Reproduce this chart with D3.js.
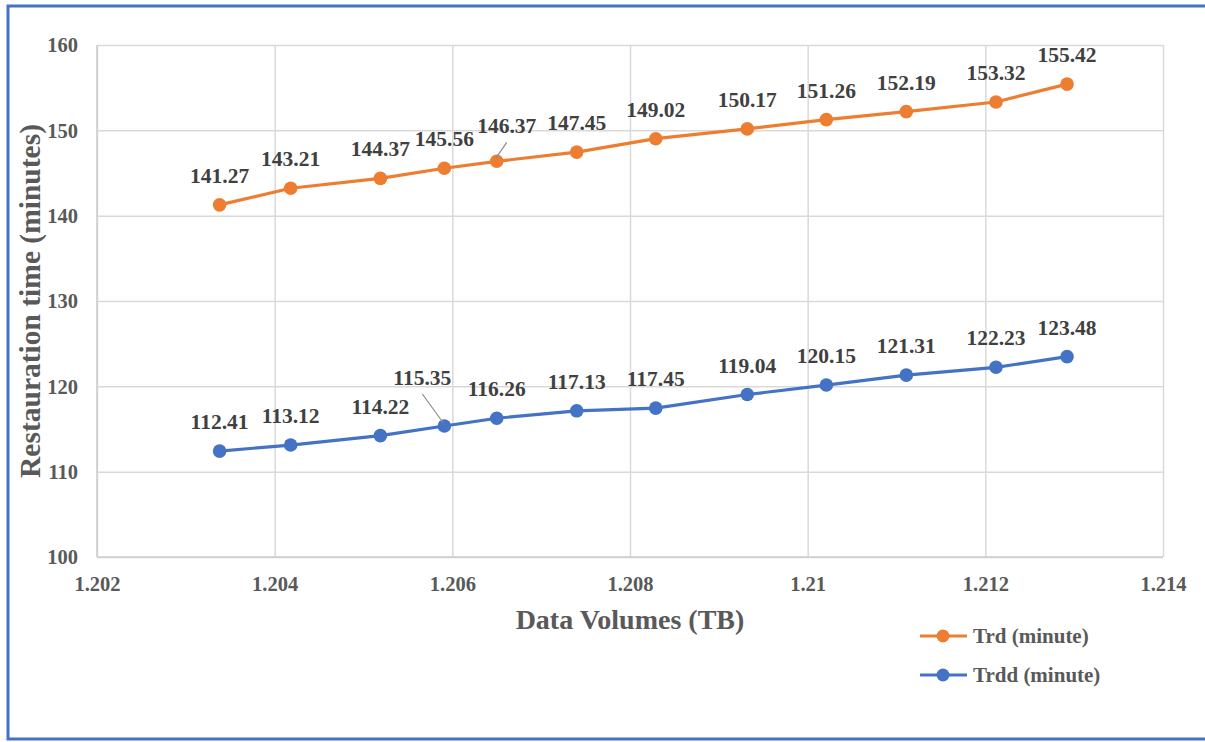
<!DOCTYPE html>
<html>
<head>
<meta charset="utf-8">
<script src="https://cdn.jsdelivr.net/npm/d3@7"></script>
<style>
  html, body { margin: 0; padding: 0; background: #fff; }
  svg { display: block; }
</style>
</head>
<body>
<svg id="chart" width="1205" height="742"></svg>
<script>
// Data volumes (TB) for each measurement
const dataVolumes = [1.20338, 1.20418, 1.20519, 1.20591, 1.20650, 1.20740,
                     1.20829, 1.20932, 1.21021, 1.21111, 1.21212, 1.21292];
// Restoration time series (minutes)
const trd  = [141.27, 143.21, 144.37, 145.56, 146.37, 147.45,
              149.02, 150.17, 151.26, 152.19, 153.32, 155.42];
const trdd = [112.41, 113.12, 114.22, 115.35, 116.26, 117.13,
              117.45, 119.04, 120.15, 121.31, 122.23, 123.48];
const seriesNames = ["Trd (minute)", "Trdd (minute)"];
const xTickValues = [1.202, 1.204, 1.206, 1.208, 1.210, 1.212, 1.214];
const xTickLabels = ["1.202", "1.204", "1.206", "1.208", "1.21", "1.212", "1.214"];
const yTickValues = [100, 110, 120, 130, 140, 150, 160];

// Hand-placed data labels: [series index, point index, dx, dy, leader line]
const labelNudges = [
  [0, 4, 10, -6, true],
  [1, 3, -22, -19, true]
];

const FONT = "'Liberation Serif', 'Times New Roman', serif";
const colors = ["#ED7D31", "#4472C4"];
const svg = d3.select("#chart");
const W = 1205;

// outer frame (left, top and bottom edges)
svg.append("path")
  .attr("d", `M${W},6 H8 V739 H${W}`)
  .attr("fill", "none")
  .attr("stroke", "#4472C4")
  .attr("stroke-width", 3);

const plot = { left: 97, right: 1163, top: 45, bottom: 557 };
const x = d3.scaleLinear().domain([1.202, 1.214]).range([plot.left, plot.right]);
const y = d3.scaleLinear().domain([100, 160]).range([plot.bottom, plot.top]);

// gridlines
const grid = svg.append("g");
grid.append("g")
  .attr("transform", `translate(0,${plot.bottom})`)
  .call(d3.axisBottom(x).tickValues(xTickValues).tickSize(-(plot.bottom - plot.top)).tickFormat(""))
  .call(g => g.select(".domain").remove())
  .call(g => g.selectAll("line").attr("stroke", "#d9d9d9").attr("stroke-width", 1.5));
grid.append("g")
  .attr("transform", `translate(${plot.left},0)`)
  .call(d3.axisLeft(y).tickValues(yTickValues).tickSize(-(plot.right - plot.left)).tickFormat(""))
  .call(g => g.select(".domain").remove())
  .call(g => g.selectAll("line").attr("stroke", "#d9d9d9").attr("stroke-width", 1.5));
svg.append("line").attr("x1", plot.left).attr("x2", plot.left).attr("y1", plot.top).attr("y2", plot.bottom)
  .attr("stroke", "#cccccc").attr("stroke-width", 1.5);
svg.append("line").attr("x1", plot.left).attr("x2", plot.right).attr("y1", plot.bottom).attr("y2", plot.bottom)
  .attr("stroke", "#cccccc").attr("stroke-width", 1.5);

// tick labels
const xAxis = svg.append("g")
  .attr("transform", `translate(0,${plot.bottom})`)
  .call(d3.axisBottom(x).tickValues(xTickValues).tickSize(0).tickPadding(0)
        .tickFormat((d, i) => xTickLabels[i]));
xAxis.attr("font-family", FONT).attr("font-size", 20.5).attr("font-weight", "bold");
xAxis.select(".domain").remove();
xAxis.selectAll("text").attr("y", 34).attr("dy", 0).attr("fill", "#595959");

const yAxis = svg.append("g")
  .attr("transform", `translate(${plot.left},0)`)
  .call(d3.axisLeft(y).tickValues(yTickValues).tickSize(0).tickPadding(19));
yAxis.attr("font-family", FONT).attr("font-size", 20.5).attr("font-weight", "bold");
yAxis.select(".domain").remove();
yAxis.selectAll("text").attr("fill", "#595959").attr("dy", "0.33em");

// axis titles
svg.append("text")
  .attr("transform", `translate(40,${(plot.top + plot.bottom) / 2 - 0}) rotate(-90)`)
  .attr("text-anchor", "middle")
  .attr("font-family", FONT).attr("font-weight", "bold")
  .attr("font-size", 29.5).attr("fill", "#595959")
  .text("Restauration time (minutes)");
svg.append("text")
  .attr("x", 630).attr("y", 629)
  .attr("text-anchor", "middle")
  .attr("font-family", FONT).attr("font-weight", "bold")
  .attr("font-size", 28).attr("fill", "#595959")
  .text("Data Volumes (TB)");

// series
const allSeries = [trd, trdd];
const line = d3.line().x((d, i) => x(dataVolumes[i])).y(d => y(d));

allSeries.forEach((vals, si) => {
  const g = svg.append("g");
  g.append("path")
    .datum(vals)
    .attr("d", line)
    .attr("fill", "none")
    .attr("stroke", colors[si])
    .attr("stroke-width", 3.2)
    .attr("stroke-linejoin", "round");
  g.selectAll("circle")
    .data(vals)
    .join("circle")
    .attr("cx", (d, i) => x(dataVolumes[i]))
    .attr("cy", d => y(d))
    .attr("r", 6.8)
    .attr("fill", colors[si]);

  vals.forEach((v, i) => {
    const px = x(dataVolumes[i]), py = y(v);
    const nudge = labelNudges.find(n => n[0] === si && n[1] === i);
    const dx = nudge ? nudge[2] : 0, dy = nudge ? nudge[3] : 0;
    const lx = px + dx, ly = py - 22 + dy;
    if (nudge && nudge[4]) {
      g.append("line")
        .attr("x1", lx).attr("y1", ly + 9)
        .attr("x2", px - 1).attr("y2", py - 3)
        .attr("stroke", "#8c8c8c").attr("stroke-width", 1.2);
    }
    g.append("text")
      .attr("x", lx).attr("y", ly)
      .attr("text-anchor", "middle")
      .attr("font-family", FONT).attr("font-weight", "bold")
      .attr("font-size", 21.5).attr("fill", "#404040")
      .text(v.toFixed(2));
  });
});

// legend
const legend = svg.append("g");
seriesNames.forEach((name, si) => {
  const ly = 636 + si * 39;
  legend.append("line").attr("x1", 920).attr("x2", 967).attr("y1", ly).attr("y2", ly)
    .attr("stroke", colors[si]).attr("stroke-width", 3.2);
  legend.append("circle").attr("cx", 943).attr("cy", ly).attr("r", 6.5).attr("fill", colors[si]);
  legend.append("text").attr("x", 973).attr("y", ly + 7)
    .attr("font-family", FONT).attr("font-weight", "bold")
    .attr("font-size", 21).attr("fill", "#595959").text(name);
});
</script>
</body>
</html>
